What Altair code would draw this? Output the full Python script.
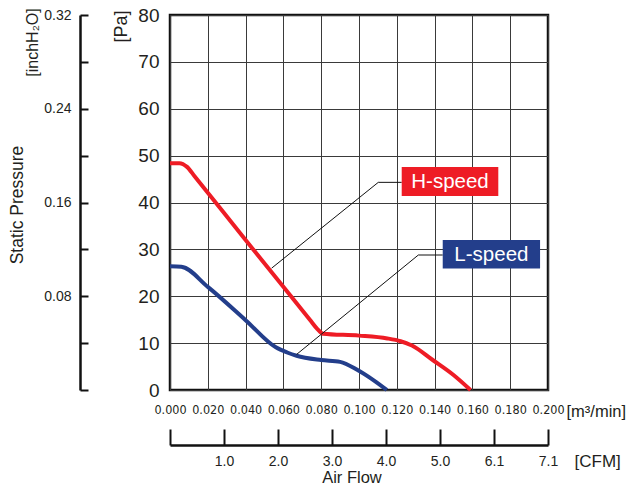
import altair as alt
import pandas as pd

# ---- data ----
h_flow = [0.000, 0.005, 0.009, 0.013, 0.040, 0.074, 0.078, 0.081, 0.100, 0.115, 0.122, 0.128, 0.139, 0.150, 0.159]
h_pa = [48.4, 48.4, 47.6, 45.6, 32.0, 15.0, 13.0, 12.0, 11.6, 11.0, 10.4, 9.5, 6.4, 3.2, 0.0]
l_flow = [0.000, 0.006, 0.020, 0.040, 0.056, 0.062, 0.067, 0.080, 0.090, 0.099, 0.1076, 0.1147]
l_pa = [26.4, 26.3, 22.0, 14.9, 9.1, 8.0, 7.3, 6.4, 6.0, 4.3, 2.1, 0.0]

series_names = ["H-speed", "L-speed"]
series_colors = ["#EE1C25", "#233E8B"]

# leader lines (flow, Pa)
lead_series = ["H-speed", "H-speed", "H-speed", "L-speed", "L-speed", "L-speed"]
lead_flow = [0.1226, 0.1102, 0.0538, 0.1443, 0.1314, 0.0670]
lead_pa = [44.3, 44.3, 26.0, 28.8, 28.8, 7.6]
lead_order = [0, 1, 2, 0, 1, 2]

# label boxes
box_flow1 = [0.1226, 0.1443]
box_flow2 = [0.1737, 0.1958]
box_pa1 = [41.4, 25.9]
box_pa2 = [47.6, 32.0]

# axes
flow_ticks = [0.00, 0.02, 0.04, 0.06, 0.08, 0.10, 0.12, 0.14, 0.16, 0.18, 0.20]
pa_ticks = [0, 10, 20, 30, 40, 50, 60, 70, 80]
inch_ticks = [0.0, 0.04, 0.08, 0.12, 0.16, 0.20, 0.24, 0.28, 0.32]
inch_labels = ["", "", "0.08", "", "0.16", "", "0.24", "", "0.32"]
cfm_ticks = [0, 1, 2, 3, 4, 5, 6, 7]
cfm_labels = ["", "1.0", "2.0", "3.0", "4.0", "5.0", "6.1", "7.1"]

FONT = "Liberation Sans"
NARROW = "Liberation Sans Narrow, DejaVu Sans Condensed, Liberation Sans"
TXT = "#231F20"

curves = pd.DataFrame({
    "series": ["H-speed"] * len(h_flow) + ["L-speed"] * len(l_flow),
    "flow": h_flow + l_flow,
    "pa": h_pa + l_pa,
})
leads = pd.DataFrame({"series": lead_series, "flow": lead_flow, "pa": lead_pa, "o": lead_order})
boxes = pd.DataFrame({
    "series": series_names,
    "flow": box_flow1, "flow2": box_flow2,
    "pa": box_pa1, "pa2": box_pa2,
})
boxes["cx"] = (boxes["flow"] + boxes["flow2"]) / 2
boxes["cy"] = (boxes["pa"] + boxes["pa2"]) / 2

x_scale = alt.Scale(domain=[0, 0.2], nice=False, zero=False)
y_scale = alt.Scale(domain=[0, 80], nice=False)

x_axis = alt.Axis(
    values=flow_ticks, format=".3f", grid=True, gridColor="#3a3a3a", gridWidth=1,
    ticks=False, domain=False, labelFont=NARROW, labelFontSize=12.5, labelColor=TXT,
    labelPadding=13, labelFlush=False,
    title="[m³/min]", titleFont=FONT, titleFontSize=16.5, titleFontWeight="normal",
    titleColor=TXT, titleX=396, titleY=21, titleAlign="left", titleBaseline="middle",
    titleAngle=0,
)
y_axis = alt.Axis(
    values=pa_ticks, grid=True, gridColor="#3a3a3a", gridWidth=1, ticks=False,
    domain=False, labelFont=FONT, labelFontSize=19, labelColor=TXT, labelPadding=11,
    labelFlush=False,
    title="[Pa]", titleFont=FONT, titleFontSize=18, titleFontWeight="normal",
    titleColor=TXT, titleX=-49, titleY=11, titleAngle=-90, titleAlign="center",
    titleBaseline="middle",
)

xe = alt.X("flow:Q", scale=x_scale, axis=x_axis)
ye = alt.Y("pa:Q", scale=y_scale, axis=y_axis)

lines = alt.Chart(curves).mark_line(strokeWidth=4, interpolate="monotone").encode(
    x=xe, y=ye,
    color=alt.Color("series:N", scale=alt.Scale(domain=series_names, range=series_colors), legend=None),
)
leaders = alt.Chart(leads).mark_line(strokeWidth=1, color="#111").encode(
    x=xe, y=ye, detail="series:N", order="o:Q",
)
rects = alt.Chart(boxes).mark_rect().encode(
    x=xe, x2="flow2:Q", y=ye, y2="pa2:Q",
    color=alt.Color("series:N", scale=alt.Scale(domain=series_names, range=series_colors), legend=None),
)
texts = alt.Chart(boxes).mark_text(
    font=FONT, fontSize=20.5, color="white", align="center", baseline="middle", dy=1
).encode(
    x=alt.X("cx:Q", scale=x_scale, axis=x_axis),
    y=alt.Y("cy:Q", scale=y_scale, axis=y_axis),
    text="series:N",
)

inner = alt.layer(lines, leaders, rects, texts)

# inchH2O axis
inch_df = pd.DataFrame({"inch": [0.0, 0.32]})
inch_expr = "[" + ",".join('"%s"' % s for s in inch_labels) + "][round(datum.value / 0.04)]"
inch_layer = alt.Chart(inch_df).mark_point(opacity=0).encode(
    y=alt.Y("inch:Q", scale=alt.Scale(domain=[0, 0.32], nice=False), axis=alt.Axis(
        orient="right", offset=-468, values=inch_ticks, labelExpr=inch_expr,
        grid=False, domain=True, domainColor="#111", domainWidth=2.5,
        ticks=True, tickColor="#111", tickWidth=2, tickSize=8,
        labelAlign="right", labelPadding=-17, labelFont=FONT, labelFontSize=14,
        labelColor=TXT, labelFlush=False, labelBaseline="middle",
        title="[inchH₂O]", titleFont=FONT, titleFontSize=16, titleFontWeight="normal",
        titleColor=TXT, titleAngle=-90, titleX=-48, titleY=27,
        titleAlign="center", titleBaseline="middle",
    )),
)

# CFM axis
cfm_df = pd.DataFrame({"cfm": [0, 7]})
cfm_expr = "[" + ",".join('"%s"' % s for s in cfm_labels) + "][round(datum.value)]"
cfm_layer = alt.Chart(cfm_df).mark_point(opacity=0).encode(
    x=alt.X("cfm:Q", scale=alt.Scale(domain=[0, 7], nice=False), axis=alt.Axis(
        orient="top", offset=-430, values=cfm_ticks, labelExpr=cfm_expr,
        grid=False, domain=True, domainColor="#111", domainWidth=2.5,
        ticks=True, tickColor="#111", tickWidth=2, tickSize=16,
        labelBaseline="top", labelPadding=-25, labelFont=FONT, labelFontSize=14,
        labelColor=TXT, labelFlush=False,
        title="[CFM]", titleFont=FONT, titleFontSize=17, titleFontWeight="normal",
        titleColor=TXT, titleX=404, titleY=16, titleAngle=0,
        titleAlign="left", titleBaseline="middle",
    )),
)

# free titles
title_df = pd.DataFrame({"t": ["Static Pressure"]})
static_title = alt.Chart(title_df).mark_text(
    font=FONT, fontSize=17.5, color=TXT, angle=270, align="center", baseline="middle"
).encode(x=alt.value(-152), y=alt.value(190), text="t:N")
air_df = pd.DataFrame({"t": ["Air Flow"]})
air_title = alt.Chart(air_df).mark_text(
    font=FONT, fontSize=16.5, color=TXT, align="center", baseline="middle"
).encode(x=alt.value(182), y=alt.value(463), text="t:N")

chart = alt.layer(inner, inch_layer, cfm_layer, static_title, air_title).resolve_scale(
    x="independent", y="independent"
).properties(
    width=378, height=375,
    autosize=alt.AutoSizeParams(type="none"),
    padding={"left": 170, "top": 15, "right": 90, "bottom": 98},
    background="white",
).configure_view(stroke="#111", strokeWidth=2.5)

chart.save("out.html", embed_options={"renderer": "svg", "actions": False})
